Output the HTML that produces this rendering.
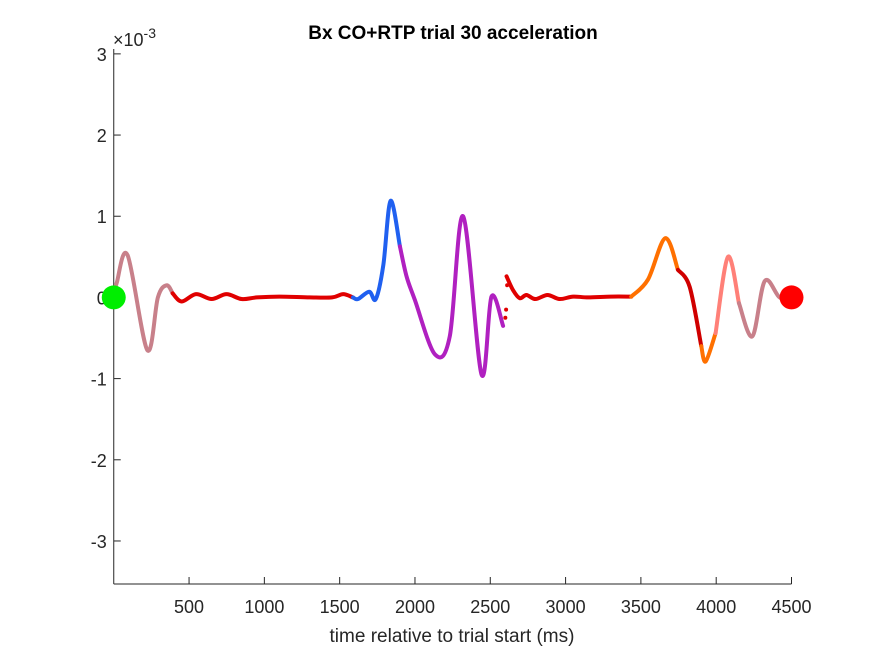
<!DOCTYPE html>
<html><head><meta charset="utf-8"><style>
body{margin:0;background:#fff;}
svg text{font-family:"Liberation Sans",sans-serif;}
</style></head><body>
<svg id="chart" width="875" height="656" viewBox="0 0 875 656" xmlns="http://www.w3.org/2000/svg">
<rect width="875" height="656" fill="#fff"/>
<text x="453" y="39" text-anchor="middle" font-size="19" font-weight="bold" fill="#000">Bx  CO+RTP trial 30 acceleration</text>
<text x="113" y="46" font-size="18" fill="#262626">×10<tspan dy="-8" font-size="14">-3</tspan></text>
<g id="axes"></g>
<g id="series"></g>
<text x="452" y="642" text-anchor="middle" font-size="19" fill="#262626">time relative to trial start (ms)</text>
</svg>
<script>
const xTicks=[500,1000,1500,2000,2500,3000,3500,4000,4500];
const yTicks=[-3,-2,-1,0,1,2,3];
const segColors=['#c8808a','#e00000','#2060f0','#b020c0','#e00000','#ff7000','#d00000','#ff7000','#ff8078','#c8808a'];
const segTimes=[
 [0,20,92,223,293,351,391],
 [391,451,546,650,749,849,950,1100,1300,1450,1523,1588],
 [1588,1622,1696,1740,1790,1838,1900],
 [1900,1944,1999,2132,2231,2320,2442,2508,2585],
 [2608,2651,2696,2740,2800,2880,2960,3050,3150,3300,3436],
 [3436,3547,3662,3746],
 [3746,3824,3901],
 [3901,3930,3996],
 [3996,4078,4151],
 [4151,4240,4322,4421,4500]
];
const segValues=[
 [0,0.18,0.52,-0.65,0,0.15,0.05],
 [0.05,-0.05,0.04,-0.02,0.04,-0.02,0,0.01,0,0,0.04,0],
 [0,-0.02,0.07,-0.02,0.4,1.19,0.63],
 [0.63,0.26,-0.03,-0.70,-0.48,1.0,-0.95,0.01,-0.35],
 [0.26,0.09,-0.01,0.03,-0.02,0.03,-0.02,0.01,0,0.01,0.01],
 [0.01,0.22,0.73,0.34],
 [0.34,0.13,-0.6],
 [-0.6,-0.79,-0.44],
 [-0.44,0.50,-0.07],
 [-0.07,-0.48,0.2,0,0]
];
const dotTimes=[2600,2605,2612];
const dotValues=[-0.25,-0.15,0.15];
const startMarker=[0,0], endMarker=[4500,0];

const L=113.75,R=791.5,T=49,B=584,xMin=0,xMax=4500,yMin=-3.53,yMax=3.06;
const xs=t=>L+(t-xMin)/(xMax-xMin)*(R-L);
const ys=v=>B-(v-yMin)/(yMax-yMin)*(B-T);
const NS='http://www.w3.org/2000/svg';
function mk(tag,attrs,parent){const e=document.createElementNS(NS,tag);for(const k in attrs)e.setAttribute(k,attrs[k]);parent.appendChild(e);return e;}
const ax=document.getElementById('axes'), sg=document.getElementById('series');
let a=mk('line',{x1:L,y1:B,x2:R,y2:B,stroke:'#262626','stroke-width':1},ax);


a=mk('line',{x1:L,y1:T,x2:L,y2:B,stroke:'#262626','stroke-width':1},ax);


xTicks.forEach(t=>{const x=xs(t);
 const l=mk('line',{x1:x,y1:B,x2:x,y2:B-7,stroke:'#262626'},ax);
 
 
 const tx=mk('text',{x:x,y:B+29,'text-anchor':'middle','font-size':18,fill:'#262626'},ax);tx.textContent=t;
 
 
});
yTicks.forEach(v=>{const y=ys(v);
 const l=mk('line',{x1:L,y1:y,x2:L+7,y2:y,stroke:'#262626'},ax);
 
 
 const tx=mk('text',{x:L-7,y:y+7,'text-anchor':'end','font-size':18,fill:'#262626'},ax);tx.textContent=v;
 
 
});
function smooth(pts){let d='M'+pts[0][0]+','+pts[0][1];
 for(let i=0;i<pts.length-1;i++){const p0=pts[Math.max(0,i-1)],p1=pts[i],p2=pts[i+1],p3=pts[Math.min(pts.length-1,i+2)];
  d+=' C'+(p1[0]+(p2[0]-p0[0])/6)+','+(p1[1]+(p2[1]-p0[1])/6)+' '+(p2[0]-(p3[0]-p1[0])/6)+','+(p2[1]-(p3[1]-p1[1])/6)+' '+p2[0]+','+p2[1];}
 return d;}
segTimes.forEach((ts,i)=>{const pts=ts.map((t,j)=>[xs(t),ys(segValues[i][j])]);
 const p=mk('path',{d:smooth(pts),fill:'none',stroke:segColors[i],'stroke-width':4,'stroke-linejoin':'round','stroke-linecap':'round'},sg);
 
 
});
dotTimes.forEach((t,i)=>{const c=mk('circle',{cx:xs(t),cy:ys(dotValues[i]),r:2,fill:'#e00000'},sg);
 
 
});
let m=mk('circle',{cx:xs(startMarker[0]),cy:ys(startMarker[1]),r:12,fill:'#00ee00'},sg);


m=mk('circle',{cx:xs(endMarker[0]),cy:ys(endMarker[1]),r:12,fill:'#ff0000'},sg);


</script>
</body></html>
